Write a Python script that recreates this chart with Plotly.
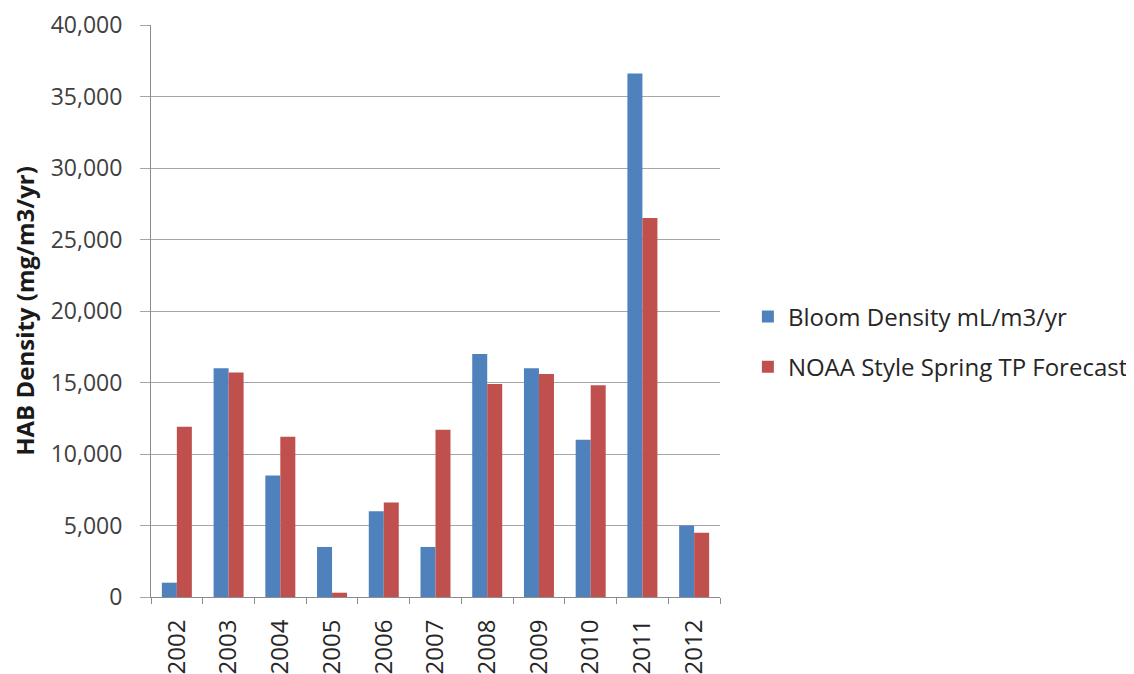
import plotly.graph_objects as go

years = ["2002", "2003", "2004", "2005", "2006", "2007", "2008", "2009", "2010", "2011", "2012"]
bloom_density = [1000, 16000, 8500, 3500, 6000, 3500, 17000, 16000, 11000, 36600, 5000]
noaa_forecast = [11900, 15700, 11200, 300, 6600, 11700, 14900, 15600, 14800, 26500, 4500]

FONT = "Open Sans"

fig = go.Figure()
fig.add_trace(go.Bar(x=years, y=bloom_density, name="Bloom Density mL/m3/yr",
                     marker=dict(color="#4F81BD", line=dict(width=0)), legendgroup="a"))
fig.add_trace(go.Bar(x=years, y=noaa_forecast, name="NOAA Style Spring TP Forecast",
                     marker=dict(color="#C0504D", line=dict(width=0)), legendgroup="b"))

# page body has an 8px margin, so the figure is offset by 8px
fig.update_layout(
    width=1126, height=666,
    margin=dict(l=143, r=414, t=17, b=77, autoexpand=False),
    paper_bgcolor="white", plot_bgcolor="white",
    barmode="group", bargap=0.42, bargroupgap=0,
    font=dict(family=FONT, color="#404040", size=20),
    showlegend=True,
    legend=dict(x=1.049, xanchor="left", xref="paper", y=0.446, yanchor="middle",
                font=dict(family=FONT, size=24, color="#262626"),
                tracegroupgap=16, itemwidth=30, bgcolor="rgba(0,0,0,0)"),
    xaxis=dict(
        type="category", tickangle=-90, showgrid=False, automargin=False,
        showline=True, linecolor="#8c8c8c", linewidth=1,
        ticks="outside", ticklen=6, tickcolor="#8c8c8c",
        tickson="boundaries", ticklabelstandoff=12,
        tickfont=dict(family=FONT, size=24, color="#262626"),
    ),
    yaxis=dict(
        range=[0, 40000], dtick=5000, tickformat=",d", automargin=False,
        showgrid=True, gridcolor="#a6a6a6", gridwidth=1,
        showline=True, linecolor="#8c8c8c", linewidth=1,
        ticks="outside", ticklen=10, tickcolor="#a6a6a6",
        ticklabelstandoff=13,
        tickfont=dict(family=FONT, size=23, color="#404040"),
        title=dict(text="<b>HAB Density (mg/m3/yr)</b>", standoff=18,
                   font=dict(family=FONT, size=24, color="#1a1a1a")),
        zeroline=False,
    ),
)

fig.write_html("out.html")
